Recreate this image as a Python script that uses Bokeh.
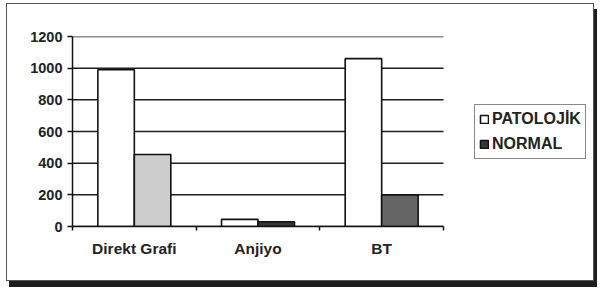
from bokeh.plotting import figure
from bokeh.models import (ColumnDataSource, Range1d, FixedTicker, Legend, LegendItem)
from bokeh.transform import dodge
from bokeh.embed import file_html
from bokeh.resources import INLINE

categories = ["Direkt Grafi", "Anjiyo", "BT"]
patolojik = [990, 45, 1060]
normal = [455, 30, 200]
y_ticks = [0, 200, 400, 600, 800, 1000, 1200]
series_names = ["PATOLOJİK", "NORMAL"]

# styles (scan tones of the NORMAL bars)
normal_colors = ["#cdcdcd", "#363636", "#656565"]

FONT = "Liberation Sans"
BAR_W = 0.295
OFF = 0.1475

# layout (px)
FIG_W, FIG_H = 588, 278
LEFT, TOP, BOTTOM = 65, 32, 56
CAT_W = 371  # pixel width of the category area
FRAME_W = FIG_W - LEFT

n = len(categories)
idx = list(range(n))
src = ColumnDataSource(dict(
    xc=[i + 0.5 for i in idx],
    pat=patolojik,
    nor=normal,
    ncol=normal_colors,
))
grid_src = ColumnDataSource(dict(y=y_ticks, x0=[0] * len(y_ticks), x1=[n] * len(y_ticks)))

p = figure(width=FIG_W, height=FIG_H, output_backend="svg", toolbar_location=None,
           x_range=Range1d(0, n * FRAME_W / CAT_W), y_range=Range1d(0, 1200),
           min_border_left=LEFT, min_border_right=0, min_border_top=TOP,
           min_border_bottom=BOTTOM)
p.outline_line_color = None
p.background_fill_color = "white"
p.border_fill_color = "white"
p.styles = {"border": "1.5px solid #555", "box-shadow": "3px 6px 0 #1e1e1e",
            "margin-left": "6px", "margin-top": "3px"}

p.xgrid.grid_line_color = None
p.ygrid.grid_line_color = None
p.segment(x0="x0", x1="x1", y0="y", y1="y", source=grid_src,
          line_color="#1e1e1e", line_width=1.5)

r1 = p.vbar(x=dodge("xc", -OFF), top="pat", width=BAR_W, source=src,
            fill_color="white", line_color="#111", line_width=1.6)
r2 = p.vbar(x=dodge("xc", OFF), top="nor", width=BAR_W, source=src,
            fill_color="ncol", line_color="#111", line_width=1.6)

# axes
xa = p.xaxis[0]
xa.bounds = (0, n)
xa.ticker = FixedTicker(ticks=[i + 0.5 for i in idx], minor_ticks=list(range(n + 1)))
xa.major_label_overrides = {i + 0.5: c for i, c in zip(idx, categories)}
xa.major_tick_out = 0
xa.major_tick_in = 0
xa.minor_tick_out = 4
xa.minor_tick_in = 0
xa.minor_tick_line_color = "#111"
xa.minor_tick_line_width = 1.5
xa.axis_line_color = "#111"
xa.axis_line_width = 1.5
xa.major_label_text_font = FONT
xa.major_label_text_font_style = "bold"
xa.major_label_text_font_size = "15.5px"
xa.major_label_text_color = "#222"
xa.major_label_standoff = 9

ya = p.yaxis[0]
ya.ticker = FixedTicker(ticks=y_ticks)
ya.minor_tick_line_color = None
ya.major_tick_out = 5
ya.major_tick_in = 0
ya.major_tick_line_color = "#111"
ya.major_tick_line_width = 1.5
ya.axis_line_color = "#111"
ya.axis_line_width = 1.5
ya.major_label_text_font = FONT
ya.major_label_text_font_style = "bold"
ya.major_label_text_font_size = "14.5px"
ya.major_label_text_color = "#222"
ya.major_label_standoff = 5

legend = Legend(items=[
    LegendItem(label=series_names[0], renderers=[r1], index=0),
    LegendItem(label=series_names[1], renderers=[r2], index=1),
], location=(402, 67))
legend.border_line_color = "#111"
legend.border_line_width = 1.5
legend.background_fill_color = "white"
legend.background_fill_alpha = 1
legend.label_text_font = FONT
legend.label_text_font_style = "bold"
legend.label_text_font_size = "16px"
legend.label_text_color = "#222"
legend.glyph_width = 10
legend.glyph_height = 10
legend.label_standoff = 3
legend.spacing = 5
legend.padding = 4
legend.margin = 0
legend.label_height = 20
p.add_layout(legend, "center")

open("out.html", "w").write(file_html(p, INLINE))
